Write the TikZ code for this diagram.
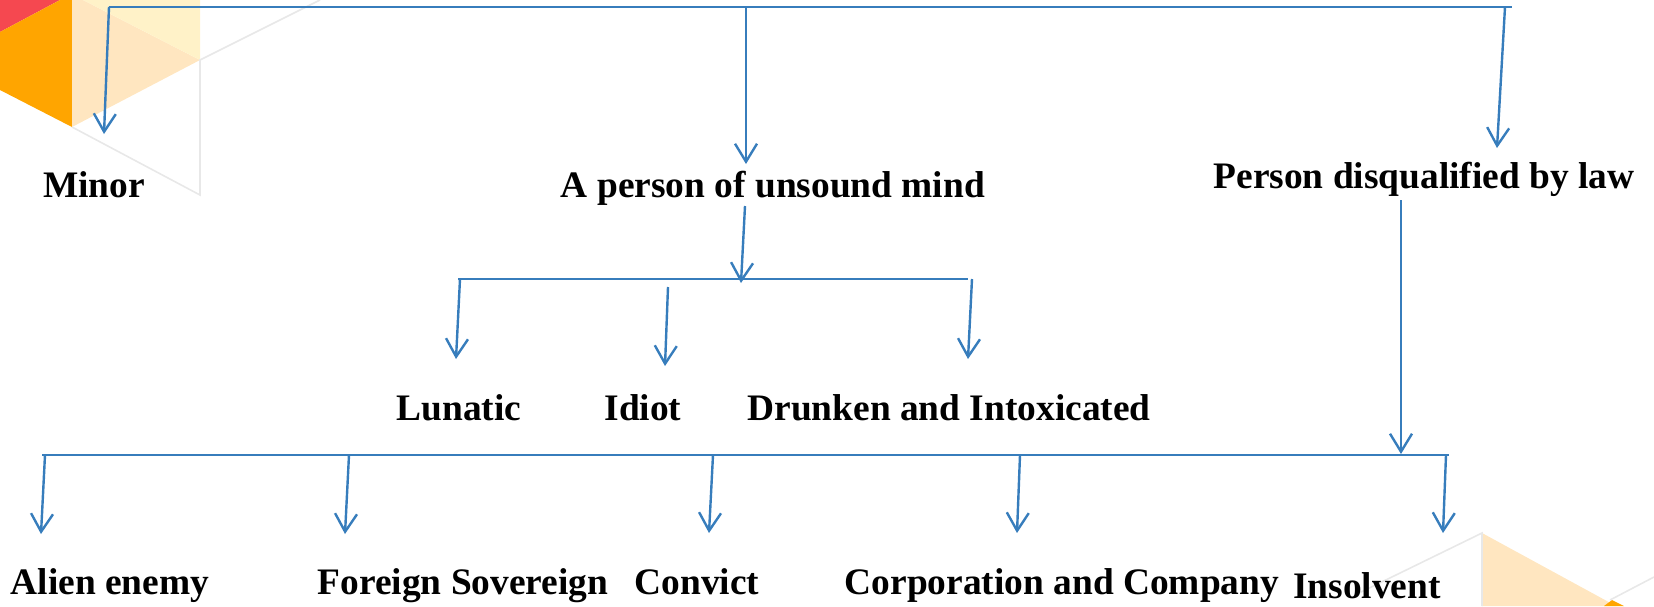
\documentclass[tikz,border=0pt]{standalone}
\usepackage{fontspec}
\setmainfont{Liberation Serif}
\usetikzlibrary{arrows.meta}
\definecolor{linkblue}{RGB}{55,125,188}
\definecolor{decoRed}{RGB}{245,72,80}
\definecolor{decoOrange}{RGB}{255,165,0}
\definecolor{decoPeach}{RGB}{255,230,192}
\definecolor{decoYellow}{RGB}{255,242,200}
\definecolor{decoGray}{RGB}{232,232,232}
\tikzset{
  % connectors
  barline/.style = {draw=linkblue, line width=1.2pt},
  arr/.style     = {draw=linkblue, line width=1.2pt,
                    -{Straight Barb[length=9pt,width=11pt]}},
  % labels
  lbl/.style     = {font=\fontsize{18.7}{22}\selectfont\bfseries,
                    inner sep=0pt, anchor=base},
  % background shapes
  decoline/.style = {draw=decoGray, line width=0.8pt},
}

\begin{document}
\begin{tikzpicture}[x=0.5pt, y=-0.5pt]
  \useasboundingbox (0,0) rectangle (1654,606);
  % background corners
  \fill[decoRed] (0,0) -- (60,0) -- (0,32) -- cycle;
  \fill[decoOrange] (0,32) -- (60,0) -- (72,0) -- (72,127) -- (0,90) -- cycle;
  \fill[decoPeach] (72,0) -- (83,0) -- (200,60) -- (72,127) -- cycle;
  \fill[decoYellow] (83,0) -- (200,0) -- (200,60) -- cycle;
  \draw[decoline] (72,127) -- (200,195) -- (200,60) -- (320,0);
  \fill[decoPeach] (1482,533) -- (1616,606) -- (1482,606) -- cycle;
  \fill[decoOrange] (1604,606) -- (1612,600) -- (1624,606) -- cycle;
  \draw[decoline] (1355,595) -- (1482,533) -- (1482,606);
  \draw[decoline] (1610,600) -- (1654,577);

  % labels
  \node[lbl] (minor)   at (94,197)   {Minor};
  \node[lbl] (unsound) at (773,197)  {A person of unsound mind};
  \node[lbl] (disq)    at (1424,188) {Person disqualified by law};
  \node[lbl] (lunatic) at (459,420)  {Lunatic};
  \node[lbl] (idiot)   at (643,420)  {Idiot};
  \node[lbl] (drunk)   at (949,420)  {Drunken and Intoxicated};
  \node[lbl] (alien)   at (110,594)  {Alien enemy};
  \node[lbl] (foreign) at (463,594)  {Foreign Sovereign};
  \node[lbl] (convict) at (697,594)  {Convict};
  \node[lbl] (corp)    at (1062,594) {Corporation and Company};
  \node[lbl] (insolv)  at (1367,598) {Insolvent};

  % top level
  \coordinate (topL) at (109,7);
  \coordinate (topM) at (746,7);
  \coordinate (topR) at (1512,7);
  \coordinate (topR2) at (1505,7);
  \coordinate (minorTip) at (104,134);
  \coordinate (unsoundTip) at (746,164);
  \coordinate (disqTip) at (1497,148);
  \draw[barline] (topL) -- (topR);
  \draw[arr] (topL) -- (minorTip);
  \draw[arr] (topM) -- (unsoundTip);
  \draw[arr] (topR2) -- (disqTip);

  % unsound mind branch
  \coordinate (unsoundOut) at (745,206);
  \coordinate (midHub) at (741,283);
  \coordinate (midL) at (458,279);
  \coordinate (midR) at (968,279);
  \draw[arr] (unsoundOut) -- (midHub);
  \draw[barline] (midL) -- (midR);
  \coordinate (lunaticS) at (460,279);
  \coordinate (lunaticTip) at (456,359);
  \coordinate (idiotS) at (668,287);
  \coordinate (idiotTip) at (665,366);
  \coordinate (drunkS) at (972,279);
  \coordinate (drunkTip) at (968,359);
  \draw[arr] (lunaticS) -- (lunaticTip);
  \draw[arr] (idiotS) -- (idiotTip);
  \draw[arr] (drunkS) -- (drunkTip);

  % disqualified branch
  \coordinate (disqOut) at (1401,200);
  \coordinate (lowHub) at (1401,454);
  \coordinate (lowL) at (42,455);
  \coordinate (lowR) at (1449,455);
  \draw[arr] (disqOut) -- (lowHub);
  \draw[barline] (lowL) -- (lowR);
  \coordinate (alienS) at (45,455);
  \coordinate (alienTip) at (41,534);
  \coordinate (foreignS) at (349,455);
  \coordinate (foreignTip) at (345,534);
  \coordinate (convictS) at (713,455);
  \coordinate (convictTip) at (709,533);
  \coordinate (corpS) at (1020,455);
  \coordinate (corpTip) at (1017,533);
  \coordinate (insolvS) at (1446,455);
  \coordinate (insolvTip) at (1443,533);
  \draw[arr] (alienS) -- (alienTip);
  \draw[arr] (foreignS) -- (foreignTip);
  \draw[arr] (convictS) -- (convictTip);
  \draw[arr] (corpS) -- (corpTip);
  \draw[arr] (insolvS) -- (insolvTip);
\end{tikzpicture}
\end{document}
